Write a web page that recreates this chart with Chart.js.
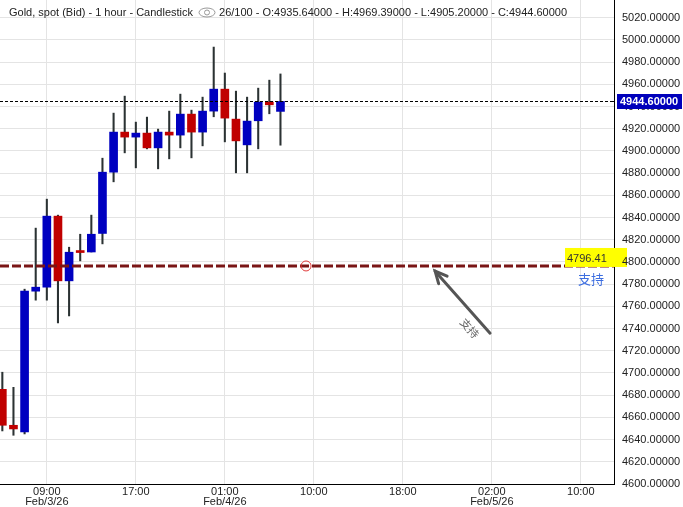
<!DOCTYPE html>
<html>
<head>
<meta charset="utf-8">
<script src="https://cdn.jsdelivr.net/npm/chart.js@4/dist/chart.umd.min.js"></script>
<style>
    html, body { margin: 0; padding: 0; background: #fff; }
    #wrap { position: relative; width: 683px; height: 507px; }
    #hdr { position: absolute; left: 9px; top: 6px; font: 11px "Liberation Sans", Arial, sans-serif;
           color: #222; white-space: nowrap; }
    #hdr svg { vertical-align: -2px; margin: 0 3px 0 5px; }
</style>
</head>
<body>
<div id="wrap">
    <canvas id="c" width="683" height="507"></canvas>
    <div id="hdr">Gold, spot (Bid) - 1 hour - Candlestick<svg width="18" height="11" viewBox="0 0 18 11"><ellipse cx="9" cy="5.5" rx="8" ry="4.5" fill="none" stroke="#999" stroke-width="1"/><circle cx="9" cy="5.5" r="2.5" fill="none" stroke="#999" stroke-width="1"/></svg>26/100 - O:4935.64000 - H:4969.39000 - L:4905.20000 - C:4944.60000</div>
</div>
<script>
/* Gold spot, 1h свечи. Значения (последняя свеча — из заголовка). */

const OPEN  = [4685.3, 4652.9, 4646.9, 4773.7, 4777.3, 4841.3, 4783.0, 4809.5, 4809.0, 4825.7,
               4880.9, 4917.0, 4912.5, 4916.1, 4902.8, 4917.0, 4914.3, 4933.2, 4917.0, 4935.9,
               4955.7, 4928.7, 4905.5, 4927.2, 4944.0, 4935.64];
const HIGH  = [4700.7, 4687.1, 4775.5, 4830.5, 4856.6, 4842.2, 4813.3, 4825.0, 4842.2, 4893.5,
               4934.1, 4949.4, 4926.0, 4930.5, 4919.7, 4935.9, 4951.2, 4936.8, 4948.5, 4993.6,
               4970.2, 4953.9, 4948.5, 4956.6, 4963.8, 4969.39];
const LOW   = [4647.8, 4643.9, 4645.1, 4765.6, 4765.6, 4745.1, 4751.4, 4801.0, 4809.0, 4816.3,
               4872.2, 4898.3, 4884.8, 4901.9, 4883.9, 4892.9, 4902.8, 4893.8, 4904.6, 4930.8,
               4908.2, 4880.3, 4880.3, 4901.9, 4933.5, 4905.20];
const CLOSE = [4652.9, 4649.6, 4773.7, 4777.3, 4841.3, 4783.0, 4808.8, 4808.5, 4825.0, 4880.9,
               4917.0, 4912.5, 4916.1, 4902.8, 4917.0, 4914.3, 4933.2, 4917.0, 4935.9, 4955.7,
               4929.6, 4909.1, 4926.9, 4944.0, 4941.6, 4944.60];

// подписи оси времени (позиция = номер бара)
const X_TICK_POS  = [4, 12, 20, 28, 36, 44, 52];
const X_TICK_TIME = ['09:00', '17:00', '01:00', '10:00', '18:00', '02:00', '10:00'];
const X_TICK_DATE = ['Feb/3/26', '', 'Feb/4/26', '', '', 'Feb/5/26', ''];

const Y_TICKS = [4600, 4620, 4640, 4660, 4680, 4700, 4720, 4740, 4760, 4780, 4800,
                 4820, 4840, 4860, 4880, 4900, 4920, 4940, 4960, 4980, 5000, 5020];

const LAST_PRICE = 4944.60;
const SUPPORT_PRICE = 4796.41;
const SUPPORT_LABEL = '支持';
const SUPPORT_MARK = { x: 27.3, y: SUPPORT_PRICE };      // кружок на линии
const ARROW_FROM = { x: 43.84, y: 4735.8 };
const ARROW_TO = { x: 38.9, y: 4791.7 };
const ARROW_TEXT_AT = { x: 42.0, y: 4740.3 };

const C_UP = '#0000c0';
const C_DOWN = '#c00000';
const C_WICK = '#2b3233';
const FONT = '"Liberation Sans", Arial, sans-serif';

const idx = OPEN.map((_, i) => i);
const upColor = (c) => (CLOSE[c.dataIndex] >= OPEN[c.dataIndex] ? C_UP : C_DOWN);

const overlay = {
    id: 'overlay',
    afterDatasetsDraw(chart) {
        const { ctx, chartArea: a, scales: { x, y } } = chart;
        ctx.save();

        // текущая цена — точечная линия
        const yc = Math.round(y.getPixelForValue(LAST_PRICE)) + 0.5;
        ctx.strokeStyle = '#000';
        ctx.lineWidth = 1;
        ctx.setLineDash([3, 2]);
        ctx.beginPath(); ctx.moveTo(a.left, yc); ctx.lineTo(a.right, yc); ctx.stroke();

        // уровень поддержки
        const ys = y.getPixelForValue(SUPPORT_PRICE);
        ctx.strokeStyle = '#7a1616';
        ctx.lineWidth = 3;
        ctx.setLineDash([9, 3]);
        ctx.beginPath(); ctx.moveTo(a.left, ys); ctx.lineTo(a.right, ys); ctx.stroke();
        ctx.setLineDash([]);

        ctx.strokeStyle = '#e03a3a';
        ctx.lineWidth = 1;
        ctx.beginPath();
        ctx.arc(x.getPixelForValue(SUPPORT_MARK.x), ys, 5, 0, Math.PI * 2);
        ctx.stroke();

        // стрелка
        const x0 = x.getPixelForValue(ARROW_FROM.x), y0 = y.getPixelForValue(ARROW_FROM.y);
        const x1 = x.getPixelForValue(ARROW_TO.x), y1 = y.getPixelForValue(ARROW_TO.y);
        const ang = Math.atan2(y1 - y0, x1 - x0);
        ctx.strokeStyle = '#555';
        ctx.lineWidth = 3;
        ctx.lineCap = 'round';
        ctx.beginPath(); ctx.moveTo(x0, y0); ctx.lineTo(x1, y1); ctx.stroke();
        ctx.beginPath();
        ctx.moveTo(x1 - 13 * Math.cos(ang - 0.45), y1 - 13 * Math.sin(ang - 0.45));
        ctx.lineTo(x1, y1);
        ctx.lineTo(x1 - 13 * Math.cos(ang + 0.45), y1 - 13 * Math.sin(ang + 0.45));
        ctx.stroke();

        ctx.save();
        ctx.translate(x.getPixelForValue(ARROW_TEXT_AT.x), y.getPixelForValue(ARROW_TEXT_AT.y));
        ctx.rotate(ang + Math.PI);
        ctx.fillStyle = '#666';
        ctx.font = '11px "Noto Sans CJK SC", sans-serif';
        ctx.textAlign = 'center';
        ctx.textBaseline = 'middle';
        ctx.fillText(SUPPORT_LABEL, 0, 0);
        ctx.restore();

        ctx.restore();
    },
    afterDraw(chart) {
        const { ctx, chartArea: a, scales: { y } } = chart;
        ctx.save();

        // подпись уровня поддержки: жёлтая плашка поверх линии, но под подписью оси
        const ys = y.getPixelForValue(SUPPORT_PRICE);
        ctx.fillStyle = '#ffff00';
        ctx.fillRect(565, ys - 18, a.right + 7 - 565, 19);
        ctx.globalCompositeOperation = 'destination-over';
        ctx.fillRect(a.right + 7, ys - 18, 6, 19);
        ctx.globalCompositeOperation = 'source-over';
        ctx.font = '11px ' + FONT;
        ctx.textBaseline = 'middle';
        ctx.fillStyle = '#333';
        ctx.fillText(SUPPORT_PRICE.toFixed(2), 567, ys - 7);
        ctx.fillStyle = '#3d6ee0';
        ctx.font = '13px "Noto Sans CJK SC", sans-serif';
        ctx.fillText(SUPPORT_LABEL, 578, ys + 13);

        // плашка текущей цены
        const yc = Math.round(y.getPixelForValue(LAST_PRICE));
        ctx.fillStyle = '#000';
        ctx.fillRect(a.right - 4, yc, 4, 1);
        ctx.fillStyle = '#0000bb';
        ctx.fillRect(a.right + 3, yc - 7, 65, 15);
        ctx.fillStyle = '#fff';
        ctx.font = 'bold 11px ' + FONT;
        ctx.fillText(LAST_PRICE.toFixed(5), a.right + 6, yc + 0.5);

        ctx.restore();
    },
};

new Chart(document.getElementById('c'), {
    type: 'bar',
    data: {
        datasets: [
            {
                label: 'body',
                data: idx.map((i) => ({ x: i, y: [OPEN[i], CLOSE[i]] })),
                backgroundColor: upColor,
                barThickness: 8,
                minBarLength: 2,
                grouped: false,
                borderWidth: 0,
                order: 0,
            },
            {
                label: 'wick',
                data: idx.map((i) => ({ x: i, y: [LOW[i], HIGH[i]] })),
                backgroundColor: C_WICK,
                barThickness: 1.4,
                grouped: false,
                borderWidth: 0,
                order: 1,
            },
        ],
    },
    options: {
        responsive: false,
        animation: false,
        events: [],
        layout: { padding: 0 },
        plugins: { legend: { display: false }, tooltip: { enabled: false } },
        scales: {
            x: {
                type: 'linear',
                min: -0.21,
                max: 54.98,
                offset: false,
                afterBuildTicks: (s) => { s.ticks = X_TICK_POS.map((v) => ({ value: v })); },
                afterFit: (s) => { s.height = 23; s.paddingLeft = 0; s.paddingRight = 0; },
                grid: { color: '#e4e4e4', drawTicks: false, offset: false },
                border: { color: '#000' },
                ticks: {
                    padding: 3,
                    maxRotation: 0,
                    autoSkip: false,
                    color: '#222',
                    font: { family: '"Liberation Sans Narrow", "Liberation Sans", Arial', size: 11, lineHeight: 0.92 },
                    callback: (v) => {
                        const k = X_TICK_POS.indexOf(v);
                        return X_TICK_DATE[k] ? [X_TICK_TIME[k], X_TICK_DATE[k]] : X_TICK_TIME[k];
                    },
                },
            },
            y: {
                position: 'right',
                min: 4600,
                max: 5036,
                afterBuildTicks: (s) => { s.ticks = Y_TICKS.map((v) => ({ value: v })); },
                afterFit: (s) => { s.width = 69; s.paddingTop = 0; s.paddingBottom = 0; },
                grid: { color: '#e4e4e4', drawTicks: false },
                border: { color: '#000' },
                ticks: {
                    padding: 8,
                    color: '#222',
                    font: { family: FONT, size: 11 },
                    callback: (v) => Number(v).toFixed(5),
                },
            },
        },
    },
    plugins: [overlay],
});
</script>
</body>
</html>
